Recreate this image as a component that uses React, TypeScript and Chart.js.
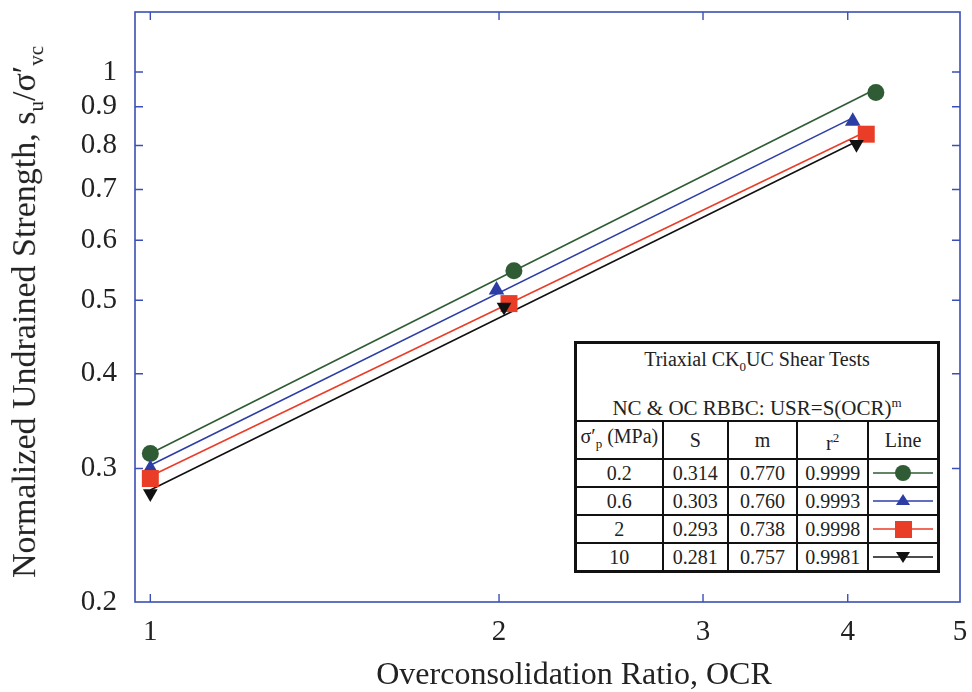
import React, { useEffect, useRef } from "react";
import { Chart, registerables } from "chart.js";

Chart.register(...registerables);

// Axis tick values
const xTicks = [1, 2, 3, 4, 5];
const yTicks = [0.2, 0.3, 0.4, 0.5, 0.6, 0.7, 0.8, 0.9, 1];

// Measured points (OCR, su/σ'vc)
const ocr02 = [1, 2.06, 4.23];
const usr02 = [0.314, 0.547, 0.94];
const ocr06 = [1, 1.99, 4.04];
const usr06 = [0.3, 0.516, 0.861];
const ocr2 = [1, 2.04, 4.15];
const usr2 = [0.291, 0.495, 0.828];
const ocr10 = [1, 2.02, 4.07];
const usr10 = [0.278, 0.49, 0.803];

// Fitted line end points
const fit02X = [1, 4.23];
const fit02Y = [0.314, 0.95];
const fit06X = [1, 4.04];
const fit06Y = [0.303, 0.87];
const fit2X = [1, 4.15];
const fit2Y = [0.293, 0.835];
const fit10X = [1, 4.07];
const fit10Y = [0.281, 0.81];

// Table contents
const sigmaP = ["0.2", "0.6", "2", "10"];
const sVals = ["0.314", "0.303", "0.293", "0.281"];
const mVals = ["0.770", "0.760", "0.738", "0.757"];
const r2Vals = ["0.9999", "0.9993", "0.9998", "0.9981"];

const GREEN = "#2f5c34";
const BLUE = "#2c3ea6";
const RED = "#ea3d27";
const BLACK = "#111111";
const AXIS = "#3b4fb5";
const TEXT = "#222222";
const SERIF = "'Liberation Serif', 'Times New Roman', serif";

const pts = (xs: number[], ys: number[]) => xs.map((x, i) => ({ x, y: ys[i] }));

const frameTicks = {
  id: "frameTicks",
  beforeDatasetsDraw(chart: any) {
    const { ctx, chartArea } = chart;
    const { left, right, top, bottom } = chartArea;
    const xs = chart.scales.x;
    const ys = chart.scales.y;
    ctx.save();
    ctx.strokeStyle = AXIS;
    ctx.lineWidth = 1.6;
    ctx.strokeRect(left, top, right - left, bottom - top);
    ctx.lineWidth = 1.4;
    const L = 8;
    ctx.beginPath();
    xTicks.forEach((v) => {
      const p = xs.getPixelForValue(v);
      if (p > left + 1 && p < right - 1) {
        ctx.moveTo(p, bottom);
        ctx.lineTo(p, bottom - L);
        ctx.moveTo(p, top);
        ctx.lineTo(p, top + L);
      }
    });
    yTicks.forEach((v) => {
      const p = ys.getPixelForValue(v);
      if (p > top + 1 && p < bottom - 1) {
        ctx.moveTo(left, p);
        ctx.lineTo(left + L, p);
        ctx.moveTo(right, p);
        ctx.lineTo(right - L, p);
      }
    });
    ctx.stroke();
    ctx.restore();
  },
};

function Marker({ kind, color }: { kind: string; color: string }) {
  let shape: React.ReactNode = null;
  if (kind === "circle") shape = <circle cx={32} cy={10} r={8} fill={color} />;
  if (kind === "triangle") shape = <polygon points="32,3 39,14 25,14" fill={color} />;
  if (kind === "rect") shape = <rect x={24} y={2} width={17} height={17} fill={color} />;
  if (kind === "down") shape = <polygon points="25,5 39,5 32,16" fill={color} />;
  return (
    <svg width={64} height={20} style={{ display: "block", margin: "0 auto" }}>
      <line x1={2} y1={10} x2={62} y2={10} stroke={color} strokeWidth={1.5} />
      {shape}
    </svg>
  );
}

const markerKinds = ["circle", "triangle", "rect", "down"];
const markerColors = [GREEN, BLUE, RED, BLACK];

export default function App() {
  const ref = useRef<HTMLCanvasElement>(null);

  useEffect(() => {
    document.body.style.margin = "0";
    const canvas = ref.current;
    if (!canvas) return;
    const lineDs = (xs: number[], ys: number[], color: string, order: number) => ({
      data: pts(xs, ys),
      showLine: true,
      borderColor: color,
      borderWidth: 1.6,
      pointRadius: 0,
      fill: false,
      order,
    });
    const ptDs = (xs: number[], ys: number[], color: string, style: string, r: number, order: number, rot = 0) => ({
      data: pts(xs, ys),
      showLine: false,
      backgroundColor: color,
      borderColor: color,
      borderWidth: 0,
      pointStyle: style,
      pointRadius: r,
      pointRotation: rot,
      order,
    });
    const chart = new Chart(canvas, {
      type: "scatter",
      data: {
        datasets: [
          lineDs(fit02X, fit02Y, GREEN, 13),
          lineDs(fit06X, fit06Y, BLUE, 12),
          lineDs(fit2X, fit2Y, RED, 11),
          lineDs(fit10X, fit10Y, BLACK, 10),
          ptDs(ocr02, usr02, GREEN, "circle", 8.5, 3),
          ptDs(ocr06, usr06, BLUE, "triangle", 9, 2),
          ptDs(ocr2, usr2, RED, "rect", 12, 1),
          ptDs(ocr10, usr10, BLACK, "triangle", 8.5, 0, 180),
        ] as any,
      },
      options: {
        animation: false,
        responsive: false,
        layout: { padding: { top: 9, right: 7, left: 0, bottom: 0 } },
        plugins: { legend: { display: false }, tooltip: { enabled: false } },
        scales: {
          x: {
            type: "logarithmic",
            min: 0.97,
            max: 5.0,
            grid: { display: false, drawTicks: false },
            border: { display: false },
            afterBuildTicks: (s: any) => {
              s.ticks = xTicks.map((v) => ({ value: v }));
            },
            afterFit: (s: any) => {
              s.height = 90;
              s.paddingLeft = 0;
              s.paddingRight = 0;
              s.paddingTop = 0;
              s.paddingBottom = 0;
            },
            ticks: {
              autoSkip: false,
              maxRotation: 0,
              padding: 13,
              color: TEXT,
              font: { family: SERIF, size: 29 },
              callback: (v: any) => String(v),
            },
          },
          y: {
            type: "logarithmic",
            min: 0.2,
            max: 1.2,
            grid: { display: false, drawTicks: false },
            border: { display: false },
            afterBuildTicks: (s: any) => {
              s.ticks = yTicks.map((v) => ({ value: v }));
            },
            afterFit: (s: any) => {
              s.width = 135;
              s.paddingLeft = 0;
              s.paddingRight = 0;
              s.paddingTop = 0;
              s.paddingBottom = 0;
            },
            ticks: {
              autoSkip: false,
              padding: 18,
              color: TEXT,
              font: { family: SERIF, size: 29 },
              callback: (v: any) => String(v),
            },
          },
        },
      },
      plugins: [frameTicks],
    });
    return () => chart.destroy();
  }, []);

  const cell: React.CSSProperties = {
    border: "2px solid #111",
    textAlign: "center",
    padding: 0,
    height: 26,
    fontSize: 20,
    lineHeight: "24px",
    color: TEXT,
  };
  const colW = [87, 65, 69, 71, 70];

  return (
    <div style={{ position: "relative", width: 972, height: 692, fontFamily: SERIF }}>
      <canvas ref={ref} width={972} height={692} style={{ display: "block" }} />
      <div
        style={{
          position: "absolute",
          left: 27,
          top: 312,
          transform: "translate(-50%, -50%) rotate(-90deg)",
          whiteSpace: "nowrap",
          fontSize: 34,
          color: TEXT,
        }}
      >
        Normalized Undrained Strength, s<sub style={{ fontSize: 21 }}>u</sub>/σ′<sub style={{ fontSize: 21 }}>vc</sub>
      </div>
      <div
        style={{
          position: "absolute",
          left: 574,
          top: 655,
          transform: "translateX(-50%)",
          whiteSpace: "nowrap",
          fontSize: 32,
          color: TEXT,
        }}
      >
        Overconsolidation Ratio, OCR
      </div>
      <table
        style={{
          position: "absolute",
          left: 574,
          top: 341,
          width: 366,
          borderCollapse: "collapse",
          border: "3px solid #111",
          background: "#fff",
          tableLayout: "fixed",
        }}
      >
        <colgroup>
          {colW.map((w, i) => (
            <col key={i} style={{ width: w }} />
          ))}
        </colgroup>
        <tbody>
          <tr>
            <td colSpan={5} style={{ ...cell, height: 67, fontSize: 20, verticalAlign: "top", paddingTop: 3 }}>
              <div>
                Triaxial CK<sub style={{ fontSize: 13 }}>0</sub>UC Shear Tests
              </div>
              <div style={{ marginTop: 12, fontSize: 21 }}>
                NC &amp; OC RBBC: USR=S(OCR)<sup style={{ fontSize: 13 }}>m</sup>
              </div>
            </td>
          </tr>
          <tr>
            <td style={{ ...cell, height: 36 }}>
              σ′<sub style={{ fontSize: 13 }}>p</sub> (MPa)
            </td>
            <td style={{ ...cell, height: 36 }}>S</td>
            <td style={{ ...cell, height: 36 }}>m</td>
            <td style={{ ...cell, height: 36 }}>
              r<sup style={{ fontSize: 13 }}>2</sup>
            </td>
            <td style={{ ...cell, height: 36 }}>Line</td>
          </tr>
          {sigmaP.map((sp, i) => (
            <tr key={sp}>
              <td style={cell}>{sp}</td>
              <td style={cell}>{sVals[i]}</td>
              <td style={cell}>{mVals[i]}</td>
              <td style={cell}>{r2Vals[i]}</td>
              <td style={cell}>
                <Marker kind={markerKinds[i]} color={markerColors[i]} />
              </td>
            </tr>
          ))}
        </tbody>
      </table>
    </div>
  );
}
